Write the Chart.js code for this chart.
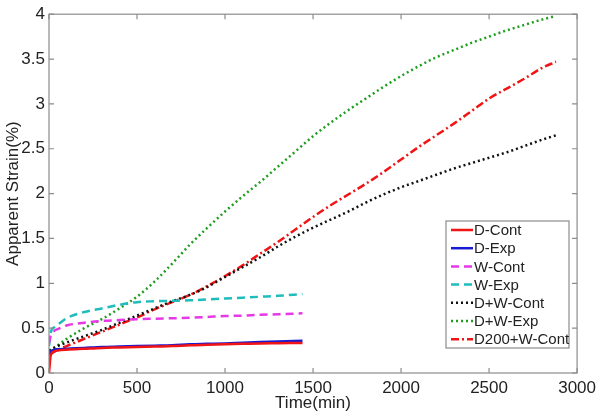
<!DOCTYPE html>
<html lang="en">
<head>
<meta charset="UTF-8">
<title>Apparent Strain vs Time</title>
<script src="https://cdn.jsdelivr.net/npm/chart.js@4.4.0/dist/chart.umd.min.js"></script>
<style>
  html, body { margin: 0; padding: 0; background: #fff; }
  canvas { display: block; }
</style>
</head>
<body>
<canvas id="strainChart" width="601" height="412"></canvas>
<script>
// time (min) and apparent strain (%)
const tShort = [0, 10, 30, 50, 100, 200, 300, 400, 500, 600, 700, 800, 900, 1000, 1100, 1200, 1300, 1440];
const dCont  = [0.0, 0.2, 0.24, 0.25, 0.26, 0.27, 0.28, 0.285, 0.29, 0.295, 0.30, 0.31, 0.315, 0.32, 0.325, 0.33, 0.332, 0.335];
const dExp   = [0.2, 0.24, 0.26, 0.265, 0.27, 0.28, 0.29, 0.295, 0.30, 0.305, 0.31, 0.32, 0.325, 0.33, 0.338, 0.345, 0.35, 0.36];
const wCont  = [0.33, 0.42, 0.47, 0.49, 0.53, 0.56, 0.58, 0.59, 0.60, 0.605, 0.61, 0.615, 0.625, 0.635, 0.64, 0.65, 0.655, 0.665];
const wExp   = [0.30, 0.45, 0.51, 0.54, 0.61, 0.68, 0.72, 0.76, 0.79, 0.80, 0.805, 0.81, 0.82, 0.83, 0.84, 0.85, 0.86, 0.88];

const tLong    = [0, 50, 100, 200, 300, 400, 500, 600, 700, 800, 900, 1000, 1100, 1200, 1300, 1400, 1500, 1600, 1700, 1800, 1900, 2000, 2100, 2200, 2300, 2400, 2500, 2600, 2700, 2800, 2880];
const dwCont   = [0.25, 0.30, 0.34, 0.41, 0.48, 0.56, 0.64, 0.72, 0.80, 0.87, 0.96, 1.07, 1.18, 1.29, 1.41, 1.52, 1.62, 1.71, 1.80, 1.90, 1.99, 2.07, 2.14, 2.21, 2.28, 2.34, 2.40, 2.46, 2.53, 2.60, 2.65];
const dwExp    = [0.25, 0.31, 0.38, 0.50, 0.60, 0.72, 0.85, 1.02, 1.22, 1.43, 1.62, 1.80, 1.97, 2.13, 2.30, 2.47, 2.64, 2.79, 2.93, 3.06, 3.19, 3.31, 3.42, 3.52, 3.60, 3.68, 3.75, 3.82, 3.88, 3.94, 3.98];
const d200wCont = [0.2, 0.26, 0.30, 0.38, 0.46, 0.54, 0.62, 0.71, 0.79, 0.87, 0.97, 1.08, 1.20, 1.33, 1.46, 1.60, 1.74, 1.87, 1.99, 2.11, 2.24, 2.38, 2.52, 2.65, 2.78, 2.92, 3.06, 3.17, 3.28, 3.40, 3.47];

const xTicks = [0, 500, 1000, 1500, 2000, 2500, 3000];
const yTicks = [0, 0.5, 1, 1.5, 2, 2.5, 3, 3.5, 4];

function pts(ts, vs) { return ts.map((t, i) => ({ x: t, y: vs[i] })); }

function series(label, ts, vs, color, dash) {
  return {
    label: label,
    data: pts(ts, vs),
    borderColor: color,
    backgroundColor: color,
    borderWidth: 2.5,
    borderDash: dash,
    pointRadius: 0,
    fill: false,
    cubicInterpolationMode: 'monotone'
  };
}

const FONT = 'Arial, "Liberation Sans", sans-serif';

// box frame + inward ticks, MATLAB style
const frameTicks = {
  id: 'frameTicks',
  afterDatasetsDraw(chart) {
    const { ctx, chartArea: a, scales } = chart;
    ctx.save();
    ctx.strokeStyle = '#8c8c8c';
    ctx.lineWidth = 1.2;
    ctx.strokeRect(a.left, a.top, a.right - a.left, a.bottom - a.top);
    ctx.beginPath();
    xTicks.forEach(v => {
      const px = scales.x.getPixelForValue(v);
      ctx.moveTo(px, a.bottom); ctx.lineTo(px, a.bottom - 5);
      ctx.moveTo(px, a.top); ctx.lineTo(px, a.top + 5);
    });
    yTicks.forEach(v => {
      const py = scales.y.getPixelForValue(v);
      ctx.moveTo(a.left, py); ctx.lineTo(a.left + 5, py);
      ctx.moveTo(a.right, py); ctx.lineTo(a.right - 5, py);
    });
    ctx.stroke();
    ctx.restore();
  }
};

// legend box inside the plot, lower right
const boxLegend = {
  id: 'boxLegend',
  afterDraw(chart) {
    const { ctx } = chart;
    const left = 446, top = 221, w = 123, h = 127;
    const rowH = 18.2, firstY = 230;
    ctx.save();
    ctx.fillStyle = '#fff';
    ctx.fillRect(left, top, w, h);
    ctx.strokeStyle = '#8c8c8c';
    ctx.lineWidth = 1.2;
    ctx.strokeRect(left, top, w, h);
    ctx.font = '15px ' + FONT;
    ctx.textBaseline = 'middle';
    chart.data.datasets.forEach((ds, i) => {
      const y = firstY + i * rowH;
      ctx.beginPath();
      ctx.strokeStyle = ds.borderColor;
      ctx.lineWidth = ds.borderWidth;
      ctx.setLineDash(ds.borderDash || []);
      ctx.moveTo(451, y); ctx.lineTo(473, y);
      ctx.stroke();
      ctx.setLineDash([]);
      ctx.fillStyle = '#222';
      ctx.fillText(ds.label, 474, y + 1);
    });
    ctx.restore();
  }
};

const ctx = document.getElementById('strainChart').getContext('2d');
new Chart(ctx, {
  type: 'line',
  data: {
    datasets: [
      series('D-Cont', tShort, dCont, '#f01414', []),
      series('D-Exp', tShort, dExp, '#1a1ad2', []),
      series('W-Cont', tShort, wCont, '#e639e6', [8, 5]),
      series('W-Exp', tShort, wExp, '#1fbcbc', [8, 5]),
      series('D+W-Cont', tLong, dwCont, '#111111', [2, 3]),
      series('D+W-Exp', tLong, dwExp, '#1e9e1e', [2, 3]),
      series('D200+W-Cont', tLong, d200wCont, '#f01414', [8, 3, 2, 3])
    ]
  },
  options: {
    responsive: false,
    animation: false,
    layout: { padding: { top: 10, right: 21, left: 0, bottom: 0 } },
    scales: {
      x: {
        type: 'linear',
        min: 0, max: 3000,
        afterFit(s) { s.height = 39; },
        afterBuildTicks(s) { s.ticks = xTicks.map(v => ({ value: v })); },
        grid: { display: false, drawTicks: false },
        border: { display: false },
        ticks: {
          padding: 5,
          color: '#222',
          font: { family: FONT, size: 17 },
          maxRotation: 0,
          callback: v => String(v)
        },
        title: {
          display: true, text: 'Time(min)', color: '#222',
          font: { family: FONT, size: 17, lineHeight: 1 },
          padding: 0
        }
      },
      y: {
        min: 0, max: 4,
        afterFit(s) { s.width = 49; },
        afterBuildTicks(s) { s.ticks = yTicks.map(v => ({ value: v })); },
        grid: { display: false, drawTicks: false },
        border: { display: false },
        ticks: {
          padding: 4,
          color: '#222',
          font: { family: FONT, size: 17 },
          callback: v => String(v)
        },
        title: {
          display: true, text: 'Apparent Strain(%)', color: '#222',
          font: { family: FONT, size: 17, lineHeight: 1.2 },
          padding: { top: 3, bottom: 0 }
        }
      }
    },
    plugins: {
      legend: { display: false },
      tooltip: { enabled: false }
    }
  },
  plugins: [frameTicks, boxLegend]
});
</script>
</body>
</html>
